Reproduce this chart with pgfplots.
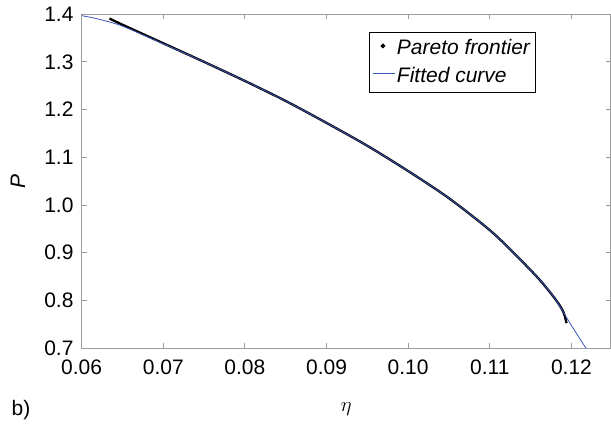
\documentclass[border=0pt]{standalone}
\usepackage{fontspec}
\setmainfont{Liberation Sans}
\usepackage{pgfplots}
\pgfplotsset{compat=1.18}
\definecolor{fitblue}{RGB}{60,85,185}
\definecolor{axgray}{RGB}{155,155,155}
\begin{document}
\fontsize{21bp}{25bp}\selectfont
\begin{tikzpicture}
\begin{axis}[
  scale only axis, width=529.4bp, height=334bp,
  xmin=0.06, xmax=0.1248, ymin=0.7, ymax=1.4,
  clip mode=individual,
  xtick={0.06,0.07,...,0.125},
  ytick={0.7,0.8,...,1.41},
  xticklabels={0.06,0.07,0.08,0.09,0.10,0.11,0.12},
  yticklabels={0.7,0.8,0.9,1.0,1.1,1.2,1.3,1.4},
  /pgf/number format/assume math mode=true,
  tick label style={font=\fontsize{21bp}{25bp}\selectfont, text=black},
  axis line style={axgray, line width=0.8bp},
  tick style={axgray, line width=0.8bp},
  major tick length=5bp,
  tick align=inside,
  xticklabel style={yshift=-5bp},
  yticklabel style={xshift=-1bp},
  legend style={at={(0.5427,0.946)}, anchor=north west, draw=black, line width=0.8bp,
    font=\fontsize{21bp}{25bp}\itshape, inner xsep=3bp, inner ysep=5bp,
    row sep=5bp, cells={anchor=west}},
  legend cell align=left,
]
\addplot[black, line width=2.3bp, smooth,
  legend image code/.code={\fill[black] (0.42cm,0.1cm) circle (0.9bp);}]
  coordinates {
  (0.0634,1.391) (0.0650,1.378) (0.0700,1.339) (0.0750,1.300) (0.0800,1.260)
  (0.0850,1.218) (0.0900,1.172) (0.0950,1.124) (0.1000,1.071) (0.1050,1.014)
  (0.1100,0.947) (0.1130,0.898) (0.1160,0.845) (0.1180,0.803) (0.1190,0.776)
  (0.1194,0.752)};
\addlegendentry{Pareto frontier}
\addplot[fitblue, line width=0.8bp, smooth,
  legend image code/.code={\draw[fitblue, line width=0.8bp] (0.05cm,0.1cm) -- (0.83cm,0.1cm);}]
  coordinates {
  (0.0600,1.397) (0.0620,1.390) (0.0650,1.375) (0.0700,1.338) (0.0750,1.300)
  (0.0800,1.260) (0.0850,1.218) (0.0900,1.172) (0.0950,1.124) (0.1000,1.071)
  (0.1050,1.014) (0.1100,0.947) (0.1130,0.898) (0.1160,0.845) (0.1180,0.803)
  (0.1200,0.747) (0.1218,0.699)};
\addlegendentry{Fitted curve}
\node at (rel axis cs:0.5,0) [yshift=-61bp] {$\eta$};
\node at (rel axis cs:0,0.5) [xshift=-63.7bp, rotate=90] {\itshape P};
\node at (rel axis cs:0,0) [xshift=-60.7bp, yshift=-62bp] {b)};
\path (rel axis cs:0,0) ++(-81.7bp,-69bp);
\path (rel axis cs:1,1) ++(0,19.5bp);
\end{axis}
\end{tikzpicture}
\end{document}
